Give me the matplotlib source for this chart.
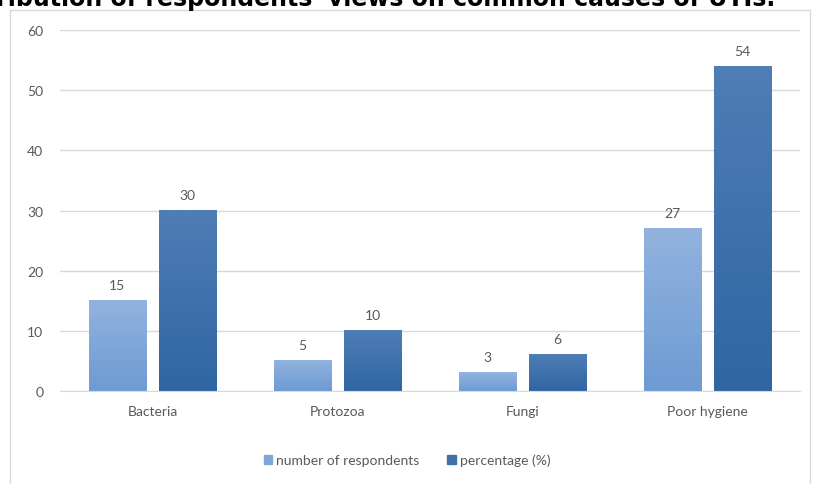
import matplotlib.pyplot as plt
import numpy as np
from matplotlib.patches import Rectangle, Patch
from matplotlib.colors import LinearSegmentedColormap

# data
categories = ['Bacteria', 'Protozoa', 'Fungi', 'Poor hygiene']
respondents = [15, 5, 3, 27]
percentage = [30, 10, 6, 54]
series_names = ['number of respondents', 'percentage (%)']
yticks = [0, 10, 20, 30, 40, 50, 60]

plt.rcParams['font.family'] = ['Lato', 'DejaVu Sans']
text_col = '#595959'

fig = plt.figure(figsize=(8.14, 4.85), dpi=100)
ax = fig.add_axes([0.0737, 0.1918, 0.909, 0.7442])

# chart frame
fig.patches.append(Rectangle((10 / 814, -0.05), 800 / 814, 1 - 11 / 485 + 0.05,
                             transform=fig.transFigure, fill=False,
                             edgecolor='#d9d9d9', linewidth=1.0))

# title (clipped by the top and left edges as in the original)
fig.text(775 / 814, 1 - 6 / 485, "Distribution of respondents' views on common causes of UTIs.",
         ha='right', va='baseline', fontsize=17, fontweight='bold', color='black',
         family=['DejaVu Sans'])

x = np.arange(len(categories))
w = 0.31
gap = 0.035
light = LinearSegmentedColormap.from_list('l', ['#6d9bd3', '#92b3de'])
dark = LinearSegmentedColormap.from_list('d', ['#2f66a3', '#4f7db5'])

bars1 = ax.bar(x - w / 2 - gap, respondents, w, color='#7fa6d8', label=series_names[0], zorder=2)
bars2 = ax.bar(x + w / 2 + gap, percentage, w, color='#3f71ab', label=series_names[1], zorder=2)

# gradient fill on bars
grad = np.linspace(0, 1, 100).reshape(-1, 1)
for bars, cmap in ((bars1, light), (bars2, dark)):
    for b in bars:
        b.set_facecolor('none')
        b.set_edgecolor('none')
        x0, y0 = b.get_x(), b.get_y()
        ax.imshow(grad, cmap=cmap, aspect='auto', origin='lower',
                  extent=(x0, x0 + b.get_width(), y0, y0 + b.get_height()), zorder=2)

for b in list(bars1) + list(bars2):
    ax.text(b.get_x() + b.get_width() / 2, b.get_height() + 1.6, str(int(b.get_height())),
            ha='center', va='bottom', fontsize=10, color=text_col)

ax.set_xlim(-0.5, len(categories) - 0.5)
ax.set_ylim(0, 60)
ax.set_yticks(yticks)
ax.set_xticks(x)
ax.set_xticklabels(categories)
ax.tick_params(axis='both', length=0, labelsize=10, colors=text_col)
ax.tick_params(axis='x', pad=10)
ax.tick_params(axis='y', pad=12)
ax.grid(axis='y', color='#d9d9d9', linewidth=1.0, zorder=0)
for s in ['top', 'right', 'left']:
    ax.spines[s].set_visible(False)
ax.spines['bottom'].set_color('#d9d9d9')

# legend with swatches colored like the bars
handles = [Patch(color='#7fa6d8'), Patch(color='#3f71ab')]
fig.legend(handles, series_names, loc='center', bbox_to_anchor=(0.5, 1 - 461 / 485),
           ncol=2, frameon=False, fontsize=10, labelcolor=text_col,
           handlelength=0.6, handleheight=0.6, handletextpad=0.3, columnspacing=2.0)

fig.savefig('out.png', dpi=100)
